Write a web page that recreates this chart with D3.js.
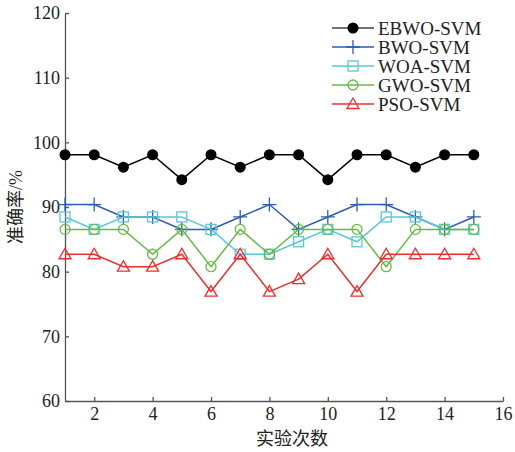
<!DOCTYPE html>
<html lang="zh">
    <head>
        <meta charset="utf-8">
        <title>准确率</title>
        <script type="text/javascript" src="https://cdn.jsdelivr.net/npm/d3@7/dist/d3.min.js"></script>
        <style>
            body { margin: 0; background: #fff; }
            text { font-family: "Liberation Serif", "Noto Sans CJK SC", serif; }
        </style>
    </head>
    <body>
        <script type="text/javascript">
            // data
            var runs  = [1, 2, 3, 4, 5, 6, 7, 8, 9, 10, 11, 12, 13, 14, 15];
            var ebwo  = [98.08, 98.08, 96.15, 98.08, 94.23, 98.08, 96.15, 98.08, 98.08, 94.23, 98.08, 98.08, 96.15, 98.08, 98.08];
            var bwo   = [90.38, 90.38, 88.46, 88.46, 86.54, 86.54, 88.46, 90.38, 86.54, 88.46, 90.38, 90.38, 88.46, 86.54, 88.46];
            var woa   = [88.46, 86.54, 88.46, 88.46, 88.46, 86.54, 82.69, 82.69, 84.62, 86.54, 84.62, 88.46, 88.46, 86.54, 86.54];
            var gwo   = [86.54, 86.54, 86.54, 82.69, 86.54, 80.77, 86.54, 82.69, 86.54, 86.54, 86.54, 80.77, 86.54, 86.54, 86.54];
            var pso   = [82.69, 82.69, 80.77, 80.77, 82.69, 76.92, 82.69, 76.92, 78.85, 82.69, 76.92, 82.69, 82.69, 82.69, 82.69];
            var names = ['EBWO-SVM', 'BWO-SVM', 'WOA-SVM', 'GWO-SVM', 'PSO-SVM'];
            var xTicks = [2, 4, 6, 8, 10, 12, 14, 16];
            var yTicks = [60, 70, 80, 90, 100, 110, 120];

            var w = 515;
            var h = 452;

            var series = [
                { name: names[0], values: ebwo, color: '#000000', marker: 'dot' },
                { name: names[1], values: bwo,  color: '#2c5db3', marker: 'plus' },
                { name: names[2], values: woa,  color: '#5cc6d8', marker: 'square' },
                { name: names[3], values: gwo,  color: '#66bb44', marker: 'circle' },
                { name: names[4], values: pso,  color: '#ee2e2e', marker: 'triangle' }
            ];

            var x = d3.scaleLinear().domain([1, 16]).range([65, 503]);
            var y = d3.scaleLinear().domain([60, 120]).range([401, 13]);

            var svg = d3.select('body')
                        .append('svg')
                        .attr('width', w)
                        .attr('height', h);

            // axes, ticks pointing inward
            var xAxis = svg.append('g')
                .attr('transform', 'translate(0,' + y(60) + ')')
                .call(d3.axisBottom(x).tickValues(xTicks).tickSizeInner(-4).tickSizeOuter(0).tickPadding(6));
            var yAxis = svg.append('g')
                .attr('transform', 'translate(' + x(1) + ',0)')
                .call(d3.axisLeft(y).tickValues(yTicks).tickSizeInner(-4).tickSizeOuter(0).tickPadding(5));

            [xAxis, yAxis].forEach(function(g){
                g.selectAll('path, line').attr('stroke', '#555').attr('stroke-width', 1.3);
                g.selectAll('text').attr('font-size', '18px').attr('fill', '#222')
                 .attr('font-family', '"Liberation Serif", serif');
            });

            // axis titles
            svg.append('text')
                .attr('x', 292).attr('y', 445)
                .attr('text-anchor', 'middle')
                .attr('font-size', '18px')
                .attr('fill', '#222')
                .text('实验次数');
            svg.append('text')
                .attr('transform', 'translate(22,207) rotate(-90)')
                .attr('text-anchor', 'middle')
                .attr('font-size', '18px')
                .attr('fill', '#222')
                .text('准确率/%');

            function drawMarker(sel, s){
                if (s.marker === 'dot') {
                    sel.append('circle').attr('r', 5.5).attr('fill', s.color);
                } else if (s.marker === 'circle') {
                    sel.append('circle').attr('r', 5).attr('fill', 'none')
                       .attr('stroke', s.color).attr('stroke-width', 1.3);
                } else if (s.marker === 'square') {
                    sel.append('rect').attr('x', -5).attr('y', -5).attr('width', 10).attr('height', 10)
                       .attr('fill', 'none').attr('stroke', s.color).attr('stroke-width', 1.3);
                } else if (s.marker === 'plus') {
                    sel.append('path').attr('d', 'M-7,0H7M0,-7V7')
                       .attr('stroke', s.color).attr('stroke-width', 1.3);
                } else if (s.marker === 'triangle') {
                    sel.append('path').attr('d', 'M0,-6L6,4.5H-6Z')
                       .attr('fill', 'none').attr('stroke', s.color).attr('stroke-width', 1.3);
                }
            }

            var line = d3.line()
                .x(function(d, i){ return x(runs[i]); })
                .y(function(d){ return y(d); });

            series.forEach(function(s){
                svg.append('path')
                    .datum(s.values)
                    .attr('d', line)
                    .attr('fill', 'none')
                    .attr('stroke', s.color)
                    .attr('stroke-width', 1.5);

                svg.selectAll(null)
                    .data(s.values)
                    .enter()
                    .append('g')
                    .attr('transform', function(d, i){
                        return 'translate(' + x(runs[i]) + ',' + y(d) + ')';
                    })
                    .each(function(){ drawMarker(d3.select(this), s); });
            });

            // legend
            var legend = svg.selectAll('.legend')
                .data(series)
                .enter()
                .append('g')
                .attr('class', 'legend')
                .attr('transform', function(d, i){ return 'translate(332,' + (28 + i * 19) + ')'; });

            legend.append('line')
                .attr('x1', 0).attr('x2', 42)
                .attr('stroke', function(d){ return d.marker === 'dot' ? '#444' : d.color; })
                .attr('stroke-width', 1.5);
            legend.append('g')
                .attr('transform', 'translate(21,0)')
                .each(function(d){ drawMarker(d3.select(this), d); });
            legend.append('text')
                .attr('x', 46)
                .attr('dy', '0.35em')
                .attr('font-size', '19px')
                .attr('fill', '#222')
                .text(function(d){ return d.name; });
        </script>
    </body>
</html>
